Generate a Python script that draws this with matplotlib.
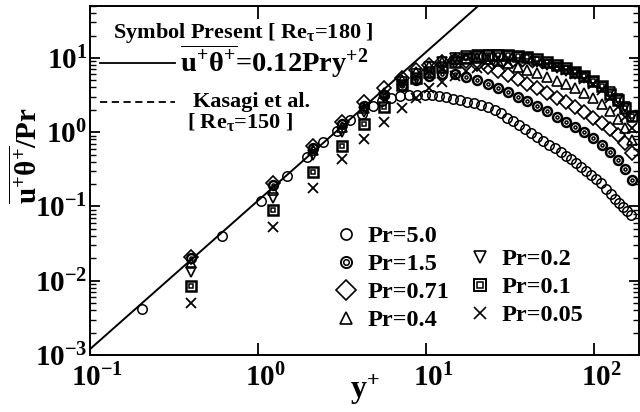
import matplotlib
matplotlib.use('Agg')
import matplotlib.pyplot as plt
import matplotlib.transforms as mtransforms
from matplotlib.lines import Line2D
from matplotlib.ticker import LogLocator, NullLocator, FuncFormatter, NullFormatter
import numpy as np

plt.rcParams['font.family'] = ['Liberation Serif', 'DejaVu Serif']
plt.rcParams['font.weight'] = 'bold'
plt.rcParams['mathtext.fontset'] = 'custom'
plt.rcParams['mathtext.rm'] = 'Liberation Serif:bold'
plt.rcParams['mathtext.it'] = 'Liberation Serif:bold'
plt.rcParams['mathtext.bf'] = 'Liberation Serif:bold'

# ---------------- data ----------------
# Pr = 5.0 (finer set of points)
yplus_pr5 = [0.204, 0.611, 1.04, 1.49, 1.96, 2.44, 2.95, 3.53, 4.16, 4.84, 5.47, 6.19, 7.0, 7.92,
             8.84, 9.86, 10.9, 11.9, 13.2, 14.5, 15.9, 17.5, 19.3, 21.2, 23.4, 25.8, 27.9, 30.3,
             33.0, 35.8, 38.8, 42.2, 45.8, 49.7, 54.0, 58.6, 63.6, 68.1, 72.9, 78.2, 83.7, 89.6,
             96.0, 103, 110, 118, 126, 133, 141, 149, 157, 166]
pr5 = [0.00417, 0.0402, 0.119, 0.258, 0.466, 0.743, 1.045, 1.47, 1.77, 2.27, 2.65, 2.91, 3.10,
       3.19, 3.19, 3.19, 3.19, 3.10, 3.00, 2.82, 2.73, 2.57, 2.49, 2.34, 2.20, 2.00, 1.82, 1.56,
       1.42, 1.26, 1.11, 0.98, 0.867, 0.766, 0.676, 0.617, 0.545, 0.481, 0.439, 0.388, 0.342,
       0.302, 0.267, 0.236, 0.208, 0.173, 0.148, 0.126, 0.112, 0.099, 0.0873, 0.0771]

# common points for the other Prandtl numbers
yplus = [0.40, 1.23, 2.12, 3.16, 4.27, 5.62, 7.19, 8.71, 10.4, 12.4, 14.9, 17.3, 20.1, 23.4,
         26.8, 30.8, 35.3, 39.9, 45.8, 52.5, 60.3, 68.1, 77.1, 87.1, 98.6, 112, 124, 139, 153, 168]
pr15 = [0.0203, 0.195, 0.617, 1.30, 2.27, 3.19, 4.22, 5.08, 5.75, 6.12, 6.12, 5.58, 5.08, 4.49,
        3.96, 3.50, 3.00, 2.65, 2.27, 1.94, 1.61, 1.38, 1.18, 1.01, 0.841, 0.676, 0.545, 0.425,
        0.321, 0.228]
pr071 = [0.0210, 0.206, 0.656, 1.38, 2.57, 3.96, 5.41, 6.93, 8.09, 8.89, 9.46, 9.17, 8.35, 7.60,
         6.72, 5.94, 5.25, 4.49, 3.96, 3.40, 2.91, 2.57, 2.20, 1.88, 1.56, 1.34, 1.11, 0.923,
         0.719, 0.527]
pr04 = [0.0174, 0.168, 0.580, 1.18, 2.13, 3.40, 5.08, 6.52, 7.85, 8.89, 9.75, 10.07, 10.07, 9.75,
        9.17, 8.61, 7.60, 6.93, 6.32, 5.58, 4.93, 4.49, 3.96, 3.40, 2.91, 2.41, 1.94, 1.52,
        1.15, 0.791]
pr02 = [0.0132, 0.131, 0.495, 1.01, 1.88, 3.00, 4.78, 6.12, 7.60, 8.89, 10.07, 10.7, 11.04, 11.04,
        11.04, 10.7, 10.4, 9.75, 8.89, 8.09, 7.38, 6.72, 6.12, 5.41, 4.78, 4.09, 3.50, 2.82,
        2.20, 1.61]
pr01 = [0.0085, 0.090, 0.292, 0.656, 1.30, 2.20, 4.35, 5.41, 6.52, 7.60, 8.89, 10.07, 10.7, 11.04,
        11.04, 11.04, 10.7, 10.4, 9.75, 8.89, 8.09, 7.38, 6.52, 5.75, 4.93, 4.22, 3.29, 2.73,
        2.13, 1.66]
pr005 = [0.0050, 0.053, 0.178, 0.439, 0.815, 1.38, 2.13, 2.91, 3.96, 4.78, 5.75, 6.72, 7.38, 8.09,
         8.61, 8.89, 8.89, 8.89, 8.61, 8.35, 7.85, 6.93, 6.12, 5.25, 4.49, 3.73, 2.91, 2.20,
         1.61, 1.15]

# wall law 0.12 y+^2 (two end points of the straight line)
law_y = [0.1, 30.0]
law_v = [0.0012, 108.0]

legend_labels = ['Pr=5.0', 'Pr=1.5', 'Pr=0.71', 'Pr=0.4', 'Pr=0.2', 'Pr=0.1', 'Pr=0.05']

# ---------------- figure ----------------
fig = plt.figure(figsize=(6.4, 4.12), dpi=100)
W, H = 640.0, 412.0
ax = fig.add_axes([90 / W, 57 / H, 549 / W, 349 / H])
ax.set_xscale('log')
ax.set_yscale('log')
ax.set_xlim(0.1, 185)
ax.set_ylim(1e-3, 50)

ax.plot(law_y, law_v, color='k', lw=1.4, zorder=1)

def pts(x, y, marker, ms, mew=1.0, mfc='none'):
    ax.plot(x, y, ls='none', marker=marker, ms=ms, mec='k', mfc=mfc, mew=mew, zorder=3)

pts(yplus_pr5, pr5, 'o', 6.8, 1.1)
pts(yplus, pr15, 'o', 6.4, 1.8)
pts(yplus, pr15, 'o', 2.2, 1.1)
pts(yplus, pr071, 'D', 7.3, 1.2)
pts(yplus, pr04, '^', 7.8, 1.2)
pts(yplus, pr02, 'v', 7.8, 1.2)
pts(yplus, pr01, 's', 6.6, 1.8)
pts(yplus, pr01, 's', 2.2, 1.1)
pts(yplus, pr005, 'x', 7.0, 1.3)

# ---------------- axes styling ----------------
for s in ax.spines.values():
    s.set_linewidth(1.4)
ax.xaxis.set_major_locator(LogLocator(base=10, numticks=10))
ax.xaxis.set_minor_locator(NullLocator())
ax.yaxis.set_major_locator(LogLocator(base=10, numticks=10))
ax.yaxis.set_minor_locator(LogLocator(base=10, subs=np.arange(2, 10), numticks=20))
ax.yaxis.set_minor_formatter(NullFormatter())

fmt = FuncFormatter(lambda v, p: r'$\mathbf{10^{%d}}$' % int(round(np.log10(v))))
ax.xaxis.set_major_formatter(fmt)
ax.yaxis.set_major_formatter(fmt)
ax.tick_params(axis='x', which='major', direction='in', length=9, width=1.3,
               top=True, labelsize=21, pad=6)
ax.tick_params(axis='y', which='major', direction='in', length=7, width=1.3,
               right=True, labelsize=21, pad=2)
ax.tick_params(axis='y', which='minor', direction='in', length=4, width=1.0, right=True)

shift = mtransforms.ScaledTranslation(7 / 100.0, 0, fig.dpi_scale_trans)
for lab in ax.xaxis.get_majorticklabels():
    lab.set_transform(lab.get_transform() + shift)

# axis labels
fig.text(27 / W, 1 - 156 / H, r'$\overline{\mathbf{u^{+}\theta^{+}}}\mathbf{/Pr}$',
         rotation=90, ha='center', va='center', fontsize=21)
fig.text(365 / W, 1 - 390 / H, r'$\mathbf{y^{+}}$', ha='center', va='center', fontsize=23)

# ---------------- annotation block (upper left) ----------------
def axp(px, py):
    return ((px - 90) / 549.0, (355 - py) / 349.0)

ax.text(*axp(113, 33), r'Symbol Present [ Re$_{\tau}$=180 ]', transform=ax.transAxes,
        ha='left', va='center', fontsize=16)
x0, y0 = axp(100, 63)
x1, _ = axp(175, 63)
ax.add_line(Line2D([x0, x1], [y0, y0], color='k', lw=1.3, transform=ax.transAxes))
ax.text(*axp(180, 61), r'$\overline{\mathbf{u^{+}\theta^{+}}}$=0.12Pry$^{\mathbf{+2}}$',
        transform=ax.transAxes, ha='left', va='center', fontsize=20.5)
x0, y0 = axp(100, 102)
x1, _ = axp(175, 102)
ax.add_line(Line2D([x0, x1], [y0, y0], color='k', lw=1.3, ls=(0, (4, 2.5)),
                   transform=ax.transAxes))
ax.text(*axp(252, 102), 'Kasagi et al.', transform=ax.transAxes,
        ha='center', va='center', fontsize=16)
ax.text(*axp(240, 122), r'[ Re$_{\tau}$=150 ]', transform=ax.transAxes,
        ha='center', va='center', fontsize=16)

# ---------------- symbol legend ----------------
def mk(marker, ms, mew=1.2):
    return Line2D([], [], ls='none', marker=marker, ms=ms, mec='k', mfc='none', mew=mew)

h = [mk('o', 8), (mk('o', 8, 1.4), mk('o', 4, 1.1)), mk('D', 10), mk('^', 8.5),
     mk('v', 8.5), (mk('s', 8, 1.4), mk('s', 4, 1.1)), mk('x', 8.5)]

lp = dict(frameon=False, prop=dict(size=17.5, weight='bold'), handlelength=1.0,
          handletextpad=0.4, labelspacing=0.25, borderpad=0, borderaxespad=0, loc='upper left')
leg1 = ax.legend(h[:4], legend_labels[:4], bbox_to_anchor=axp(334, 225), **lp)
ax.add_artist(leg1)
leg2 = ax.legend(h[4:], legend_labels[4:], bbox_to_anchor=axp(468, 248), **lp)

fig.savefig('out.png', dpi=100)
